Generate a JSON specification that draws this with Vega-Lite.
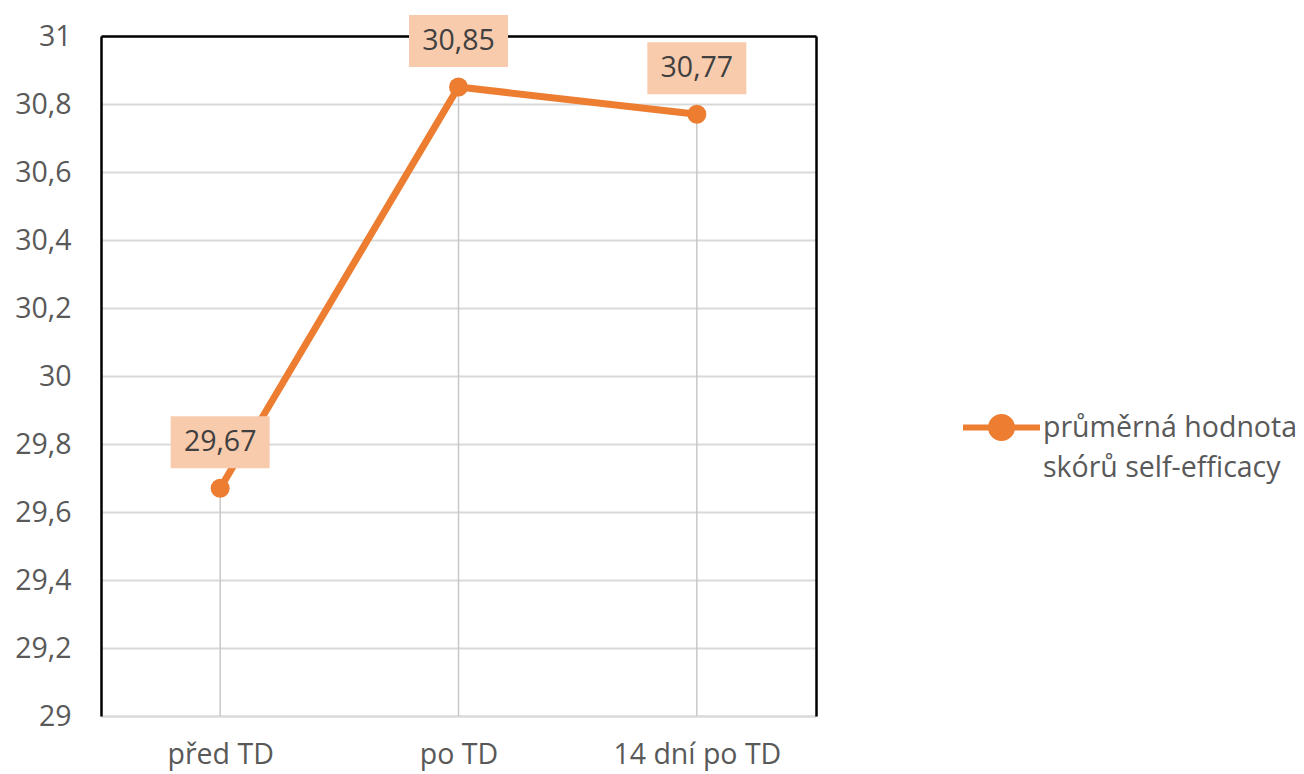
{
  "$schema": "https://vega.github.io/schema/vega-lite/v6.json",
  "autosize": {"type": "none"},
  "padding": {"left": 101, "top": 36, "right": 488, "bottom": 58},
  "width": 715,
  "height": 680,
  "background": "white",
  "config": {
    "font": "Open Sans",
    "view": {"stroke": null},
    "style": {"guide-label": {"lineHeight": 40}},
    "locale": {"number": {"decimal": ",", "thousands": " ", "grouping": [3], "currency": ["", " Kč"]}}
  },
  "data": {
    "values": [
      {"obdobi": "před TD", "hodnota": 29.67, "serie": "průměrná hodnota skórů self-efficacy"},
      {"obdobi": "po TD", "hodnota": 30.85, "serie": "průměrná hodnota skórů self-efficacy"},
      {"obdobi": "14 dní po TD", "hodnota": 30.77, "serie": "průměrná hodnota skórů self-efficacy"}
    ]
  },
  "resolve": {"axis": {"x": "independent", "y": "independent"}},
  "layer": [
    {
      "mark": {"type": "rule", "color": "#c8c8c8", "strokeWidth": 1.5},
      "encoding": {
        "x": {
          "field": "obdobi", "type": "nominal", "sort": ["před TD", "po TD", "14 dní po TD"],
          "scale": {"type": "point", "padding": 0.5},
          "axis": {
            "orient": "bottom", "title": null, "labelAngle": 0, "ticks": false,
            "domainColor": "#d9d9d9", "domainWidth": 2, "grid": false,
            "labelFontSize": 28.5, "labelColor": "#595959", "labelPadding": 24, "labelBaseline": "top"
          }
        },
        "y": {
          "field": "hodnota", "type": "quantitative",
          "scale": {"domain": [29, 31], "nice": false, "zero": false},
          "axis": {
            "orient": "left", "title": null, "values": [29, 29.2, 29.4, 29.6, 29.8, 30, 30.2, 30.4, 30.6, 30.8, 31],
            "format": "~g", "ticks": false, "domainColor": "black", "domainWidth": 2.5,
            "grid": true, "gridColor": "#d9d9d9", "gridWidth": 2,
            "labelFontSize": 28.5, "labelColor": "#595959", "labelPadding": 30
          }
        },
        "y2": {"datum": 29}
      }
    },
    {
      "mark": {"type": "line", "color": "#ed7d31", "strokeWidth": 7},
      "encoding": {
        "x": {"field": "obdobi", "type": "nominal", "sort": ["před TD", "po TD", "14 dní po TD"], "axis": null},
        "y": {"field": "hodnota", "type": "quantitative", "axis": null}
      }
    },
    {
      "mark": {"type": "point", "filled": true, "opacity": 1, "size": 360, "shape": "circle"},
      "encoding": {
        "x": {"field": "obdobi", "type": "nominal", "sort": ["před TD", "po TD", "14 dní po TD"], "axis": null},
        "y": {"field": "hodnota", "type": "quantitative", "axis": null},
        "color": {
          "field": "serie", "type": "nominal",
          "scale": {"range": ["#ed7d31"]},
          "legend": {
            "title": null, "orient": "none", "legendX": 859, "legendY": 350, "padding": 0,
            "symbolType": "M-1,0L1,0M-0.273,0A0.273,0.273 0 1,1 0.273,0A0.273,0.273 0 1,1 -0.273,0Z",
            "symbolSize": 5929, "symbolStrokeWidth": 6, "symbolFillColor": "#ed7d31", "symbolStrokeColor": "#ed7d31",
            "labelExpr": "['průměrná hodnota', 'skórů self-efficacy']",
            "labelFontSize": 28.5, "labelColor": "#595959", "labelOffset": 0, "labelLimit": 400,
            "encode": {
              "symbols": {"update": {"fill": {"value": "#ed7d31"}, "stroke": {"value": "#ed7d31"}, "strokeWidth": {"value": 7}, "opacity": {"value": 1}}},
              "labels": {"update": {"lineHeight": {"value": 40}}}
            }
          }
        }
      }
    },
    {
      "mark": {"type": "point", "filled": true, "opacity": 1, "color": "#f8cbad", "size": 9801, "yOffset": -46,
        "shape": "M-1,-0.525L1,-0.525L1,0.525L-1,0.525Z"},
      "encoding": {
        "x": {"field": "obdobi", "type": "nominal", "sort": ["před TD", "po TD", "14 dní po TD"], "axis": null},
        "y": {"field": "hodnota", "type": "quantitative", "axis": null}
      }
    },
    {
      "mark": {"type": "text", "color": "#404040", "fontSize": 28.5, "yOffset": -46, "baseline": "middle", "align": "center"},
      "encoding": {
        "x": {
          "field": "obdobi", "type": "nominal", "sort": ["před TD", "po TD", "14 dní po TD"],
          "axis": {"orient": "top", "title": null, "labels": false, "ticks": false, "grid": false, "domainColor": "black", "domainWidth": 2.5}
        },
        "y": {
          "field": "hodnota", "type": "quantitative",
          "axis": {"orient": "right", "title": null, "labels": false, "ticks": false, "grid": false, "domainColor": "black", "domainWidth": 2.5}
        },
        "text": {"field": "hodnota", "type": "quantitative", "format": ".2f"}
      }
    }
  ]
}
